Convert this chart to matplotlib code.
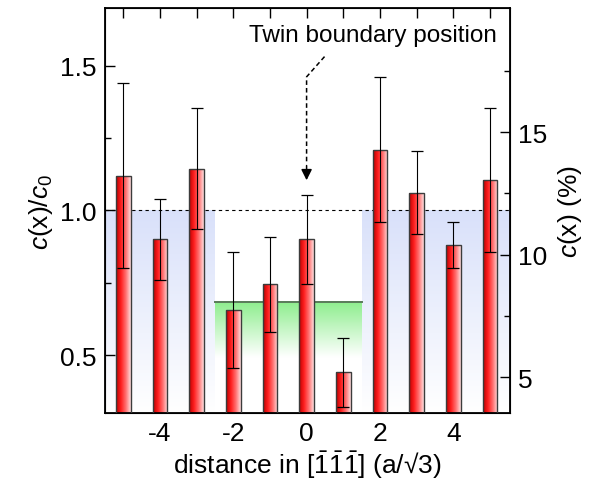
import numpy as np
import matplotlib
matplotlib.use("Agg")
import matplotlib.pyplot as plt
from matplotlib.colors import LinearSegmentedColormap

plt.rcParams['font.family'] = ['Liberation Sans', 'DejaVu Sans']
plt.rcParams['mathtext.fontset'] = 'custom'
plt.rcParams['mathtext.rm'] = 'Liberation Sans'
plt.rcParams['mathtext.it'] = 'Liberation Sans:italic'

# data
positions = [-5, -4, -3, -2, -1, 0, 1, 2, 3, 4, 5]
ratio = [1.12, 0.90, 1.145, 0.655, 0.745, 0.90, 0.44, 1.21, 1.062, 0.88, 1.105]
ratio_err = [0.32, 0.14, 0.21, 0.20, 0.165, 0.155, 0.12, 0.25, 0.143, 0.08, 0.25]
c0_percent = 11.8
twin_level = 0.685          # mean level in the twin region
bulk_ranges = [(-5.5, -2.5), (1.5, 5.55)]
twin_range = (-2.5, 1.5)

fig = plt.figure(figsize=(6.02, 4.89), dpi=100)
ax = fig.add_axes([0.1744, 0.1534, 0.6728, 0.8282])

ymin, ymax = 0.3, 1.7

# shaded background regions (vertical fade)
grad = np.linspace(0, 1, 256).reshape(-1, 1)
blue_cm = LinearSegmentedColormap.from_list('b', [(1, 1, 1), (0.85, 0.88, 0.98)])
green_cm = LinearSegmentedColormap.from_list('g', [(1, 1, 1), (1, 1, 1), (0.55, 0.93, 0.55)])
for x0, x1 in bulk_ranges:
    ax.imshow(grad, cmap=blue_cm, extent=(x0, x1, ymin, 1.0), origin='lower',
              aspect='auto', zorder=0)
ax.imshow(grad, cmap=green_cm, extent=(twin_range[0], twin_range[1], ymin, twin_level),
          origin='lower', aspect='auto', zorder=0)
ax.plot(twin_range, [twin_level, twin_level], color='#5a7a5a', lw=1.4, zorder=1)
ax.axhline(1.0, color='k', lw=0.8, ls=(0, (3, 3)), zorder=1)

# bars with horizontal red gradient
bar_cm = LinearSegmentedColormap.from_list(
    'r', [(0.72, 0.0, 0.0), (1.0, 0.12, 0.12), (1.0, 0.45, 0.45), (1.0, 0.88, 0.88)])
hgrad = np.linspace(0, 1, 256).reshape(1, -1)
bars = ax.bar(positions, ratio, width=0.4, color='none', edgecolor='#3c3c3c',
              lw=1.0, zorder=3)
for b, x, v in zip(bars, positions, ratio):
    im = ax.imshow(hgrad, cmap=bar_cm, extent=(x - 0.2, x + 0.2, ymin, v),
                   aspect='auto', zorder=2)
    im.set_clip_path(b)
ax.errorbar(positions, ratio, yerr=ratio_err, fmt='none', ecolor='k',
            elinewidth=0.8, capsize=4, capthick=0.9, zorder=4)

# twin boundary arrow
ax.plot([0.49, 0.0, 0.0], [1.532, 1.462, 1.16], color='k', lw=1.1,
        ls=(0, (3, 2)), zorder=5)
ax.annotate('', xy=(0, 1.095), xytext=(0, 1.165),
            arrowprops=dict(arrowstyle='-|>', color='k', lw=1.1,
                            mutation_scale=16), zorder=5)
ax.text(1.8, 1.605, 'Twin boundary position', ha='center', va='center',
        fontsize=17.5)

ax.set_xlim(-5.5, 5.55)
ax.set_ylim(ymin, ymax)
ax.set_xticks(positions)
ax.set_xticklabels([str(p) if p % 2 == 0 and abs(p) < 5 else '' for p in positions])
ax.set_yticks([0.5, 1.0, 1.5])
ax.set_yticks([0.75, 1.25], minor=True)
ax.tick_params(axis='both', which='major', direction='in', length=7, width=1,
               labelsize=19, top=True, pad=6)
ax.tick_params(axis='y', which='minor', direction='in', length=4, width=1)
for s in ax.spines.values():
    s.set_linewidth(1.3)
ax.set_xlabel(r'distance in [$\bar{1}\bar{1}\bar{1}$] (a/√3)',
              fontsize=19, labelpad=2)
ax.set_ylabel(r'$c$(x)/$c_0$', fontsize=19, labelpad=4)

ax2 = ax.twinx()
ax2.set_ylim(ymin * c0_percent, ymax * c0_percent)
ax2.set_yticks([5, 10, 15])
ax2.set_yticks([7.5, 12.5, 17.5], minor=True)
ax2.tick_params(axis='y', which='major', direction='in', length=7, width=1,
                labelsize=19, pad=6)
ax2.tick_params(axis='y', which='minor', direction='in', length=4, width=1)
ax2.set_ylabel(r'$c$(x) (%)', fontsize=19, labelpad=6)

fig.savefig('out.png', dpi=100)
